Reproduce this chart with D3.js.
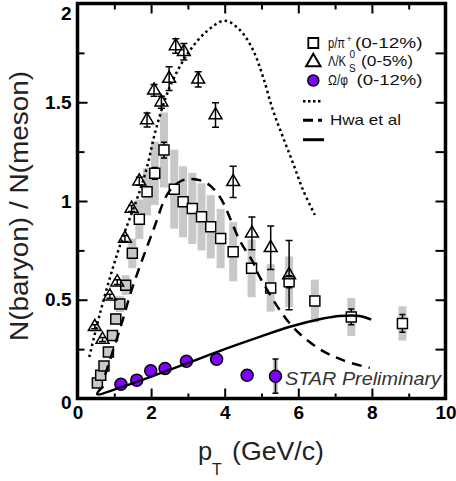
<!DOCTYPE html>
<html>
<head>
<meta charset="utf-8">
<script src="https://cdn.jsdelivr.net/npm/d3@7"></script>
<style>
  html, body { margin: 0; padding: 0; background: #fff; }
  svg { display: block; font-family: "Liberation Sans", Arial, sans-serif; }
</style>
</head>
<body>
<svg id="chart" width="456" height="481"></svg>
<script>
// p/pi+ (0-12%), low-pT points
const ppiLowPt   = [0.54, 0.63, 0.72, 0.84, 0.95, 1.04, 1.15, 1.31, 1.49];
const ppiLowVal  = [0.079, 0.118, 0.165, 0.236, 0.319, 0.403, 0.478, 0.574, 0.735];
const ppiLowStat = [0.005, 0.005, 0.005, 0.005, 0.005, 0.006, 0.006, 0.008, 0.01];
const ppiLowSys  = [0.01, 0.012, 0.015, 0.02, 0.025, 0.03, 0.04, 0.05, 0.075];

// p/pi+ (0-12%), intermediate/high-pT points
const ppiHighPt   = [1.68, 1.89, 2.10, 2.35, 2.63, 2.87, 3.12, 3.37, 3.62, 3.89, 4.23, 4.73, 5.25, 5.75, 6.45, 7.44, 8.83];
const ppiHighVal  = [0.907, 1.047, 1.14, 1.258, 1.06, 0.996, 0.962, 0.92, 0.869, 0.81, 0.743, 0.659, 0.56, 0.591, 0.494, 0.413, 0.38];
const ppiHighStat = [0.015, 0.02, 0.03, 0.04, 0.02, 0.02, 0.02, 0.02, 0.02, 0.02, 0.02, 0.02, 0.02, 0.03, 0.02, 0.04, 0.045];
const ppiHighSys  = [0.1, 0.12, 0.16, 0.19, 0.2, 0.18, 0.18, 0.17, 0.16, 0.15, 0.15, 0.146, 0.12, 0.128, 0.108, 0.096, 0.087];

// Lambda/K0s (0-5%)
const lkPt  = [0.47, 0.68, 0.88, 1.08, 1.29, 1.47, 1.68, 1.89, 2.08, 2.28, 2.49, 2.67, 2.89, 3.28, 3.75, 4.23, 4.74, 5.25, 5.75];
const lkVal = [0.363, 0.299, 0.518, 0.589, 0.81, 0.962, 1.10, 1.41, 1.56, 1.50, 1.62, 1.785, 1.756, 1.616, 1.435, 1.097, 0.836, 0.763, 0.625];
const lkErr = [0.01, 0.01, 0.01, 0.012, 0.015, 0.015, 0.02, 0.035, 0.03, 0.03, 0.06, 0.037, 0.042, 0.039, 0.062, 0.079, 0.083, 0.11, 0.175];

// Omega/phi (0-12%)
const opPt   = [1.18, 1.61, 1.99, 2.38, 2.96, 3.78, 4.61, 5.38];
const opVal  = [0.072, 0.093, 0.14, 0.152, 0.189, 0.199, 0.118, 0.113];
const opStat = [0.01, 0.01, 0.01, 0.01, 0.015, 0.02, 0.025, 0.087];
const opSys  = [0.01, 0.01, 0.01, 0.01, 0.01, 0.01, 0.02, 0.085];

// Model curves: [pT, ratio]
const dottedCurve = [[0.32,0.21],[0.61,0.43],[0.97,0.667],[1.2,0.80],[1.7,1.055],[1.89,1.173],[2.15,1.376],[2.51,1.578],[3.0,1.748],[3.5,1.857],[4.0,1.913],[4.41,1.866],[4.77,1.764],[5.04,1.629],[5.31,1.46],[5.58,1.325],[5.86,1.19],[6.13,1.055],[6.45,0.929]];
const hwaCurve = [[0.75,0.12],[0.88,0.194],[1.2,0.38],[1.47,0.549],[2.06,0.853],[2.46,1.04],[2.8,1.1],[3.1,1.111],[3.5,1.092],[3.87,1.02],[4.41,0.80],[4.77,0.69],[4.95,0.616],[5.77,0.38],[6.49,0.261],[7.21,0.194],[7.94,0.155]];
const solidCurve = [[0.70,0.062],[0.53,0.022],[1.2,0.058],[2.24,0.127],[3.0,0.18],[4.0,0.25],[4.95,0.312],[5.77,0.363],[6.67,0.405],[7.12,0.418],[7.67,0.418],[7.98,0.40]];

// Axis ticks
const xMajorTicks = [0, 2, 4, 6, 8, 10];
const xMinorTicks = [1, 3, 5, 7, 9];
const yMajorTicks = [0, 0.5, 1, 1.5, 2];
const yMinorTicks = [0.25, 0.75, 1.25, 1.75];

const svg = d3.select("#chart");
const frameL = 77.5, frameR = 445.5, frameT = 3.5, frameB = 398.5;
const x = d3.scaleLinear().domain([0, 10]).range([frameL, frameR]);
const y = d3.scaleLinear().domain([0, 2]).range([frameB, frameT]);

const GRAY = "#c8c8c8";
const PURPLE = "#8000ff";
const INK = "#111";

svg.append("defs").append("clipPath").attr("id", "plotclip")
  .append("rect").attr("x", frameL).attr("y", frameT).attr("width", frameR - frameL).attr("height", frameB - frameT);

const plot = svg.append("g").attr("clip-path", "url(#plotclip)");

const zip = (xs, ...cols) => xs.map((v, i) => [v, ...cols.map(c => c[i])]);
const lowPts  = zip(ppiLowPt, ppiLowVal, ppiLowStat, ppiLowSys);
const highPts = zip(ppiHighPt, ppiHighVal, ppiHighStat, ppiHighSys);
const lkPts   = zip(lkPt, lkVal, lkErr);
const opPts   = zip(opPt, opVal, opStat, opSys);

// systematic bands
function sysBars(data, w) {
  plot.append("g").selectAll("rect").data(data).join("rect")
    .attr("x", d => x(d[0]) - w / 2)
    .attr("width", w)
    .attr("y", d => y(d[1] + d[3]))
    .attr("height", d => y(d[1] - d[3]) - y(d[1] + d[3]))
    .attr("fill", GRAY);
}
sysBars(lowPts, 8);
sysBars(highPts, 8);
sysBars(opPts, 5);

// statistical error bars with caps
function errBars(data, cap) {
  const g = plot.append("g").attr("stroke", "#000").attr("stroke-width", 1.5).attr("fill", "none");
  g.selectAll("path").data(data).join("path")
    .attr("d", d => {
      const cx = x(d[0]), y1 = y(d[1] + d[2]), y2 = y(d[1] - d[2]);
      return `M${cx},${y1}V${y2}M${cx - cap},${y1}H${cx + cap}M${cx - cap},${y2}H${cx + cap}`;
    });
}
errBars(lowPts, 3);
errBars(highPts, 3);
errBars(lkPts, 3.5);
errBars(opPts, 3);

// p/pi+ squares
const sq = d3.symbol(d3.symbolSquare, 100);
plot.append("g").selectAll("path").data(lowPts).join("path")
  .attr("d", sq).attr("transform", d => `translate(${x(d[0])},${y(d[1])})`)
  .attr("fill", GRAY).attr("stroke", "#000").attr("stroke-width", 1.5);
plot.append("g").selectAll("path").data(highPts).join("path")
  .attr("d", sq).attr("transform", d => `translate(${x(d[0])},${y(d[1])})`)
  .attr("fill", "#fff").attr("stroke", "#000").attr("stroke-width", 1.5);

// Lambda/K0s triangles
const tri = d3.symbol(d3.symbolTriangle, 72);
plot.append("g").selectAll("path").data(lkPts).join("path")
  .attr("d", tri).attr("transform", d => `translate(${x(d[0])},${y(d[1])})`)
  .attr("fill", "none").attr("stroke", "#000").attr("stroke-width", 1.5);

// Omega/phi circles
plot.append("g").selectAll("circle").data(opPts).join("circle")
  .attr("cx", d => x(d[0])).attr("cy", d => y(d[1])).attr("r", 6)
  .attr("fill", PURPLE).attr("stroke", "#000").attr("stroke-width", 1.5);

// model curves
const line = d3.line().x(d => x(d[0])).y(d => y(d[1])).curve(d3.curveCatmullRom.alpha(0.5));
plot.append("path").datum(dottedCurve).attr("d", line)
  .attr("fill", "none").attr("stroke", "#000").attr("stroke-width", 2.5).attr("stroke-dasharray", "2.5,3.2");
plot.append("path").datum(hwaCurve).attr("d", line)
  .attr("fill", "none").attr("stroke", "#000").attr("stroke-width", 2.5).attr("stroke-dasharray", "10,7");
plot.append("path").datum(solidCurve).attr("d", line)
  .attr("fill", "none").attr("stroke", "#000").attr("stroke-width", 2.5);

// STAR Preliminary tag
svg.append("text").attr("x", 285).attr("y", 385)
  .attr("font-size", 17.5).attr("font-style", "italic").attr("fill", "#333")
  .attr("textLength", 156).attr("lengthAdjust", "spacingAndGlyphs")
  .text("STAR Preliminary");

// axes
const fmt = d3.format("~g");
function styleAxis(g) {
  g.attr("font-family", null).attr("font-size", null);
  g.select(".domain").remove();
  g.selectAll(".tick line").attr("stroke", "#000").attr("stroke-width", 2);
  g.selectAll("text")
    .style("font-size", "19px").style("font-weight", "700")
    .style("font-family", "'Liberation Sans', Arial, sans-serif").attr("fill", "#000");
}
svg.append("g").attr("transform", `translate(0,${frameB})`)
  .call(d3.axisBottom(x).tickValues(xMajorTicks).tickFormat(fmt).tickSizeInner(-10).tickSizeOuter(0).tickPadding(7))
  .call(styleAxis);
svg.append("g").attr("transform", `translate(0,${frameB})`)
  .call(d3.axisBottom(x).tickValues(xMinorTicks).tickFormat("").tickSizeInner(-5).tickSizeOuter(0))
  .call(styleAxis);
svg.append("g").attr("transform", `translate(0,${frameT})`)
  .call(d3.axisTop(x).tickValues(xMajorTicks.slice(1, -1)).tickFormat("").tickSizeInner(-10).tickSizeOuter(0))
  .call(styleAxis);
svg.append("g").attr("transform", `translate(0,${frameT})`)
  .call(d3.axisTop(x).tickValues(xMinorTicks).tickFormat("").tickSizeInner(-6).tickSizeOuter(0))
  .call(styleAxis);
const yAxisG = svg.append("g").attr("transform", `translate(${frameL},0)`)
  .call(d3.axisLeft(y).tickValues(yMajorTicks).tickFormat(fmt).tickSizeInner(-10).tickSizeOuter(0).tickPadding(6))
  .call(styleAxis);
// keep the top label inside the canvas
yAxisG.selectAll(".tick").filter(d => d === 2).select("text").attr("dy", "0.85em");
yAxisG.selectAll(".tick").filter(d => d === 0).select("text").attr("dy", "0.5em");
svg.append("g").attr("transform", `translate(${frameL},0)`)
  .call(d3.axisLeft(y).tickValues(yMinorTicks).tickFormat("").tickSizeInner(-7).tickSizeOuter(0))
  .call(styleAxis);
svg.append("g").attr("transform", `translate(${frameR},0)`)
  .call(d3.axisRight(y).tickValues(yMajorTicks.slice(1, -1)).tickFormat("").tickSizeInner(-10).tickSizeOuter(0))
  .call(styleAxis);
svg.append("g").attr("transform", `translate(${frameR},0)`)
  .call(d3.axisRight(y).tickValues(yMinorTicks).tickFormat("").tickSizeInner(-10).tickSizeOuter(0))
  .call(styleAxis);

// frame
svg.append("rect").attr("x", frameL).attr("y", frameT).attr("width", frameR - frameL).attr("height", frameB - frameT)
  .attr("fill", "none").attr("stroke", "#000").attr("stroke-width", 3.5);

// axis titles
const xTitle = svg.append("text").attr("y", 460).attr("font-size", 25.5).attr("fill", "#222");
xTitle.append("tspan").attr("x", 198).text("p");
xTitle.append("tspan").attr("x", 212).attr("dy", 15).attr("font-size", 16).text("T");
xTitle.append("tspan").attr("x", 232).attr("dy", -15)
  .attr("textLength", 92).attr("lengthAdjust", "spacingAndGlyphs").text("(GeV/c)");

svg.append("text").attr("transform", "translate(28,206) rotate(-90)")
  .attr("text-anchor", "middle").attr("font-size", 25).attr("fill", "#222")
  .attr("textLength", 270).attr("lengthAdjust", "spacingAndGlyphs")
  .text("N(baryon) / N(meson)");

// legend
const lg = svg.append("g").attr("font-size", 15).attr("fill", INK);
const mx = 313.3, tx = 328;
const fit = (sel, w) => sel.attr("textLength", w).attr("lengthAdjust", "spacingAndGlyphs");

lg.append("path").attr("d", sq).attr("transform", `translate(${mx},43)`)
  .attr("fill", "none").attr("stroke", "#000").attr("stroke-width", 1.8);
const r1 = lg.append("text").attr("y", 48);
fit(r1.append("tspan").attr("x", tx).text("p/π"), 17);
r1.append("tspan").attr("x", 346.5).attr("dy", -6).attr("font-size", 9).text("+");
fit(r1.append("tspan").attr("x", 355).attr("dy", 6).text("(0-12%)"), 67.5);

lg.append("path").attr("d", d3.symbol(d3.symbolTriangle, 90)).attr("transform", `translate(${mx},62)`)
  .attr("fill", "none").attr("stroke", "#000").attr("stroke-width", 2);
const r2 = lg.append("text").attr("y", 65.5);
fit(r2.append("tspan").attr("x", tx).text("Λ/K"), 18);
r2.append("tspan").attr("x", 349.5).attr("dy", -7.5).attr("font-size", 10).text("0");
r2.append("tspan").attr("x", 349).attr("dy", 13.5).attr("font-size", 10).text("S");
fit(r2.append("tspan").attr("x", 361).attr("dy", -6).text("(0-5%)"), 52);

lg.append("circle").attr("cx", mx).attr("cy", 80.5).attr("r", 5.5)
  .attr("fill", PURPLE).attr("stroke", "#000").attr("stroke-width", 1.5);
const r3 = lg.append("text").attr("y", 85);
fit(r3.append("tspan").attr("x", tx).text("Ω/φ"), 20);
fit(r3.append("tspan").attr("x", 356.5).text("(0-12%)"), 66);

lg.append("line").attr("x1", 303).attr("x2", 323).attr("y1", 101.3).attr("y2", 101.3)
  .attr("stroke", "#000").attr("stroke-width", 2.5).attr("stroke-dasharray", "2.5,2.5");
lg.append("line").attr("x1", 303).attr("x2", 322).attr("y1", 120.3).attr("y2", 120.3)
  .attr("stroke", "#000").attr("stroke-width", 3).attr("stroke-dasharray", "10,5");
fit(lg.append("text").attr("x", 330).attr("y", 124.7).text("Hwa et al"), 71);
lg.append("line").attr("x1", 303).attr("x2", 324).attr("y1", 139.7).attr("y2", 139.7)
  .attr("stroke", "#000").attr("stroke-width", 3);
</script>
</body>
</html>
